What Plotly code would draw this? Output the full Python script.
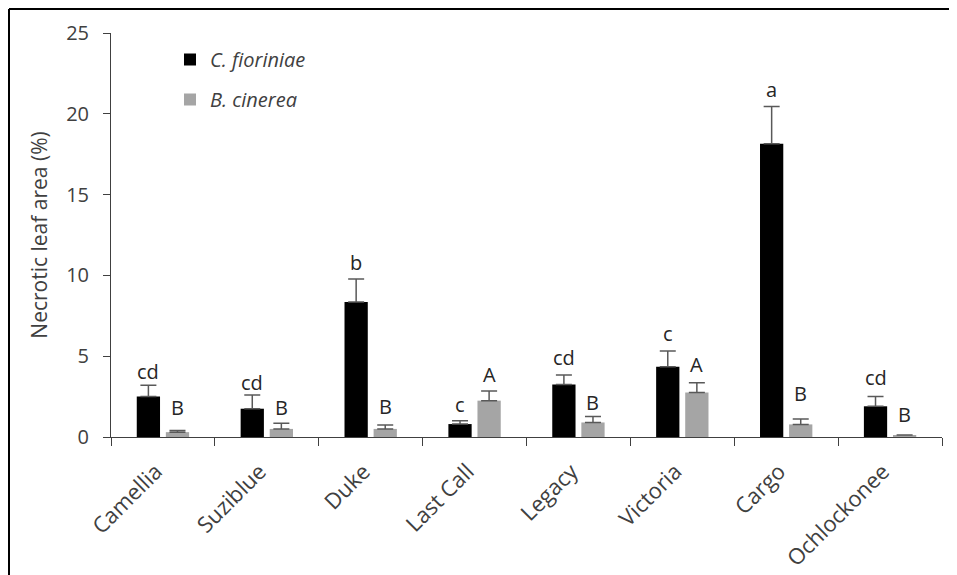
import plotly.graph_objects as go

cultivars = ["Camellia", "Suziblue", "Duke", "Last Call", "Legacy", "Victoria", "Cargo", "Ochlockonee"]
c_fioriniae = [2.5, 1.75, 8.35, 0.8, 3.25, 4.35, 18.15, 1.9]
c_fioriniae_se = [0.7, 0.85, 1.43, 0.2, 0.58, 0.97, 2.3, 0.6]
b_cinerea = [0.3, 0.5, 0.5, 2.25, 0.9, 2.75, 0.78, 0.12]
b_cinerea_se = [0.1, 0.35, 0.25, 0.6, 0.37, 0.6, 0.33, 0.0]
c_letters = ["cd", "cd", "b", "c", "cd", "c", "a", "cd"]
b_letters = ["B", "B", "B", "A", "B", "A", "B", "B"]
y_ticks = [0, 5, 10, 15, 20, 25]

# pixel gap between top of error bar and label baseline (as in the original)
c_gap = [3, 2, 6, 6, 7, 7, 7, 9]
b_gap = [13, 5, 8, 6, 3, 8, 15, 10]

FONT = "Open Sans"
FS = 20
TXT = "#404040"

fig = go.Figure()
fig.add_trace(go.Bar(
    x=cultivars, y=c_fioriniae, name="C. fioriniae", legendgroup="c",
    marker=dict(color="black", line=dict(width=0)),
    error_y=dict(type="data", array=c_fioriniae_se, symmetric=False,
                 arrayminus=[0] * len(cultivars), color="#595959", thickness=1.5, width=8),
))
fig.add_trace(go.Bar(
    x=cultivars, y=b_cinerea, name="B. cinerea", legendgroup="b",
    marker=dict(color="#a5a5a5", line=dict(width=0)),
    error_y=dict(type="data", array=b_cinerea_se, symmetric=False,
                 arrayminus=[0] * len(cultivars), color="#595959", thickness=1.5, width=8),
))

# page body adds an 8px offset; figure coordinates = screen - 8
OFF = 8
W, H = 949, 567
L, R, T, B = 103, 15, 25, 138
pw, ph = W - L - R, H - T - B
slot = pw / len(cultivars) * (1 - 0.44) / 2

annotations = []
for i, cv in enumerate(cultivars):
    for vals, errs, labs, gaps, sgn in ((c_fioriniae, c_fioriniae_se, c_letters, c_gap, -1),
                                        (b_cinerea, b_cinerea_se, b_letters, b_gap, 1)):
        annotations.append(dict(
            x=cv, y=vals[i] + errs[i], xref="x", yref="y", text=labs[i],
            showarrow=False, xanchor="center", yanchor="bottom",
            xshift=sgn * slot / 2, yshift=gaps[i] - 5,
            font=dict(family=FONT, size=FS, color="#262626"),
        ))

def px_x(p):
    return (p - OFF - L) / pw

def px_y(p):
    return (H - B - (p - OFF)) / ph

shapes = [
    dict(type="line", xref="paper", yref="paper", x0=px_x(9), x1=px_x(W + OFF + 4),
         y0=px_y(9), y1=px_y(9), line=dict(color="black", width=2)),
    dict(type="line", xref="paper", yref="paper", x0=px_x(9), x1=px_x(9),
         y0=px_y(9), y1=px_y(H + OFF + 4), line=dict(color="black", width=2)),
]

fig.update_layout(
    width=W, height=H,
    margin=dict(l=L, r=R, t=T, b=B, autoexpand=False),
    paper_bgcolor="white", plot_bgcolor="white",
    barmode="group", bargap=0.44, bargroupgap=0.2,
    font=dict(family=FONT, size=FS, color=TXT),
    showlegend=True,
    legend=dict(x=px_x(170), y=px_y(40), xanchor="left", yanchor="top",
                traceorder="grouped", tracegroupgap=11,
                font=dict(family=FONT, size=FS, color=TXT, style="italic"),
                bgcolor="rgba(0,0,0,0)"),
    annotations=annotations,
    shapes=shapes,
    xaxis=dict(
        type="category", showline=True, linecolor="#404040", linewidth=1,
        ticks="outside", ticklen=8, tickcolor="#404040", tickson="boundaries",
        tickangle=-45, ticklabelstandoff=12, ticklabelshift=-7,
        tickfont=dict(family=FONT, size=22, color=TXT),
        showgrid=False, zeroline=False, range=[-0.5, len(cultivars) - 0.5],
    ),
    yaxis=dict(
        range=[0, 25], tickvals=y_ticks, showline=True, linecolor="#404040", linewidth=1,
        ticks="outside", ticklen=7, tickcolor="#404040", ticklabelstandoff=10,
        tickfont=dict(family=FONT, size=FS, color=TXT),
        showgrid=False, zeroline=False,
        title=dict(text="Necrotic leaf area (%)", standoff=12,
                   font=dict(family=FONT, size=21, color=TXT)),
    ),
)

fig.write_html("out.html")
